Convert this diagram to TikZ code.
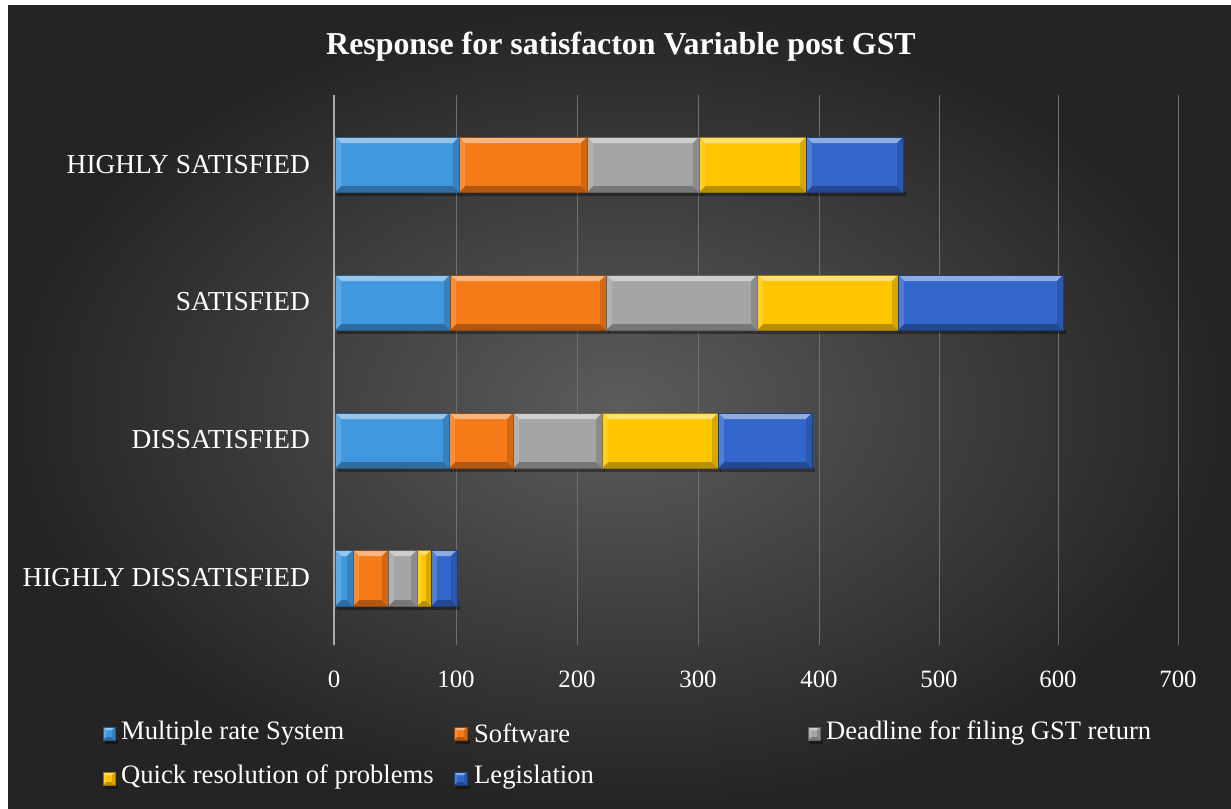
\documentclass[tikz,border=0pt]{standalone}
\usepackage{fontspec}
\setmainfont{Liberation Serif}
\definecolor{cA}{RGB}{66,152,222}
\definecolor{cB}{RGB}{245,122,24}
\definecolor{cC}{RGB}{165,165,165}
\definecolor{cD}{RGB}{255,198,0}
\definecolor{cE}{RGB}{50,102,202}
\definecolor{bgin}{RGB}{92,92,92}
\definecolor{bgout}{RGB}{36,36,36}
\definecolor{gridc}{RGB}{112,112,112}
\definecolor{axc}{RGB}{170,170,170}
% bevelled bar: x1, x2, ytop, ybot, colour, bevel
\newcommand\bvbar[6]{%
  \fill[black,opacity=.35] (#1+2,#4) rectangle (#2+3,#4+4);
  \fill[#5] (#1,#3) rectangle (#2,#4);
  \fill[#5!55!white] (#1,#3)--(#2,#3)--(#2-#6,#3+#6)--(#1+#6,#3+#6)--cycle;
  \fill[#5!72!black] (#1,#4)--(#2,#4)--(#2-#6,#4-#6)--(#1+#6,#4-#6)--cycle;
  \fill[#5!85!white] (#1,#3)--(#1+#6,#3+#6)--(#1+#6,#4-#6)--(#1,#4)--cycle;
  \fill[#5!85!black] (#2,#3)--(#2-#6,#3+#6)--(#2-#6,#4-#6)--(#2,#4)--cycle;
  \draw[#5!60!black,line width=.8] (#1,#3) rectangle (#2,#4);
}
\tikzset{
  catlabel/.style={anchor=east,text=white,font=\fontsize{27.5}{30}\selectfont,inner sep=0pt},
  ticklabel/.style={anchor=center,text=white,font=\fontsize{25}{28}\selectfont,inner sep=0pt},
  legtext/.style={anchor=west,text=white,font=\fontsize{26.7}{30}\selectfont,inner sep=0pt},
  gridline/.style={gridc,line width=1},
}
\begin{document}
\begin{tikzpicture}[x=1bp,y=-1bp]
\useasboundingbox (0,0) rectangle (1231,809);
\fill[white] (0,0) rectangle (1231,809);
\shade[inner color=bgin,outer color=bgout] (8,6) rectangle (1231,809);
% title
\node[text=white,font=\fontsize{32}{36}\selectfont\bfseries] (title) at (621,47) {Response for satisfacton Variable post GST};
% grid
\foreach \v/\x in {100/456,200/577,300/698,400/819,500/939,600/1058,700/1178}{
  \draw[gridline] (\x,95) -- (\x,645);
  \node[ticklabel] (t\v) at (\x,679) {\v};
}
\node[ticklabel] (t0) at (334,679) {0};
\draw[axc,line width=1.6] (334,95) -- (334,645);
% bars
\bvbar{335}{459}{137}{192}{cA}{6}
\bvbar{459}{587}{137}{192}{cB}{6}
\bvbar{587}{699}{137}{192}{cC}{6}
\bvbar{699}{806}{137}{192}{cD}{6}
\bvbar{806}{903}{137}{192}{cE}{6}

\bvbar{335}{450}{275}{330}{cA}{6}
\bvbar{450}{606}{275}{330}{cB}{6}
\bvbar{606}{757}{275}{330}{cC}{6}
\bvbar{757}{898}{275}{330}{cD}{6}
\bvbar{898}{1063}{275}{330}{cE}{6}

\bvbar{335}{449}{413}{468}{cA}{6}
\bvbar{449}{513}{413}{468}{cB}{6}
\bvbar{513}{602}{413}{468}{cC}{6}
\bvbar{602}{718}{413}{468}{cD}{6}
\bvbar{718}{812}{413}{468}{cE}{6}

\bvbar{335}{353}{550}{606}{cA}{6}
\bvbar{353}{388}{550}{606}{cB}{6}
\bvbar{388}{417}{550}{606}{cC}{6}
\bvbar{417}{431}{550}{606}{cD}{5}
\bvbar{431}{457}{550}{606}{cE}{6}
% category labels
\node[catlabel] (hs) at (310,165) {HIGHLY SATISFIED};
\node[catlabel] (s) at (310,302) {SATISFIED};
\node[catlabel] (d) at (310,440) {DISSATISFIED};
\node[catlabel] (hd) at (310,578) {HIGHLY DISSATISFIED};
% legend
\bvbar{103}{115}{727}{740}{cA}{3}
\node[legtext] (l1) at (121,733) {Multiple rate System};
\bvbar{454}{467}{727}{740}{cB}{3}
\node[legtext] (l2) at (474,733) {Software};
\bvbar{808}{820}{727}{740}{cC}{3}
\node[legtext] (l3) at (826,733) {Deadline for filing GST return};
\bvbar{103}{115}{772}{785}{cD}{3}
\node[legtext] (l4) at (121,777) {Quick resolution of problems};
\bvbar{454}{467}{772}{785}{cE}{3}
\node[legtext] (l5) at (474,777) {Legislation};
\end{tikzpicture}
\end{document}
